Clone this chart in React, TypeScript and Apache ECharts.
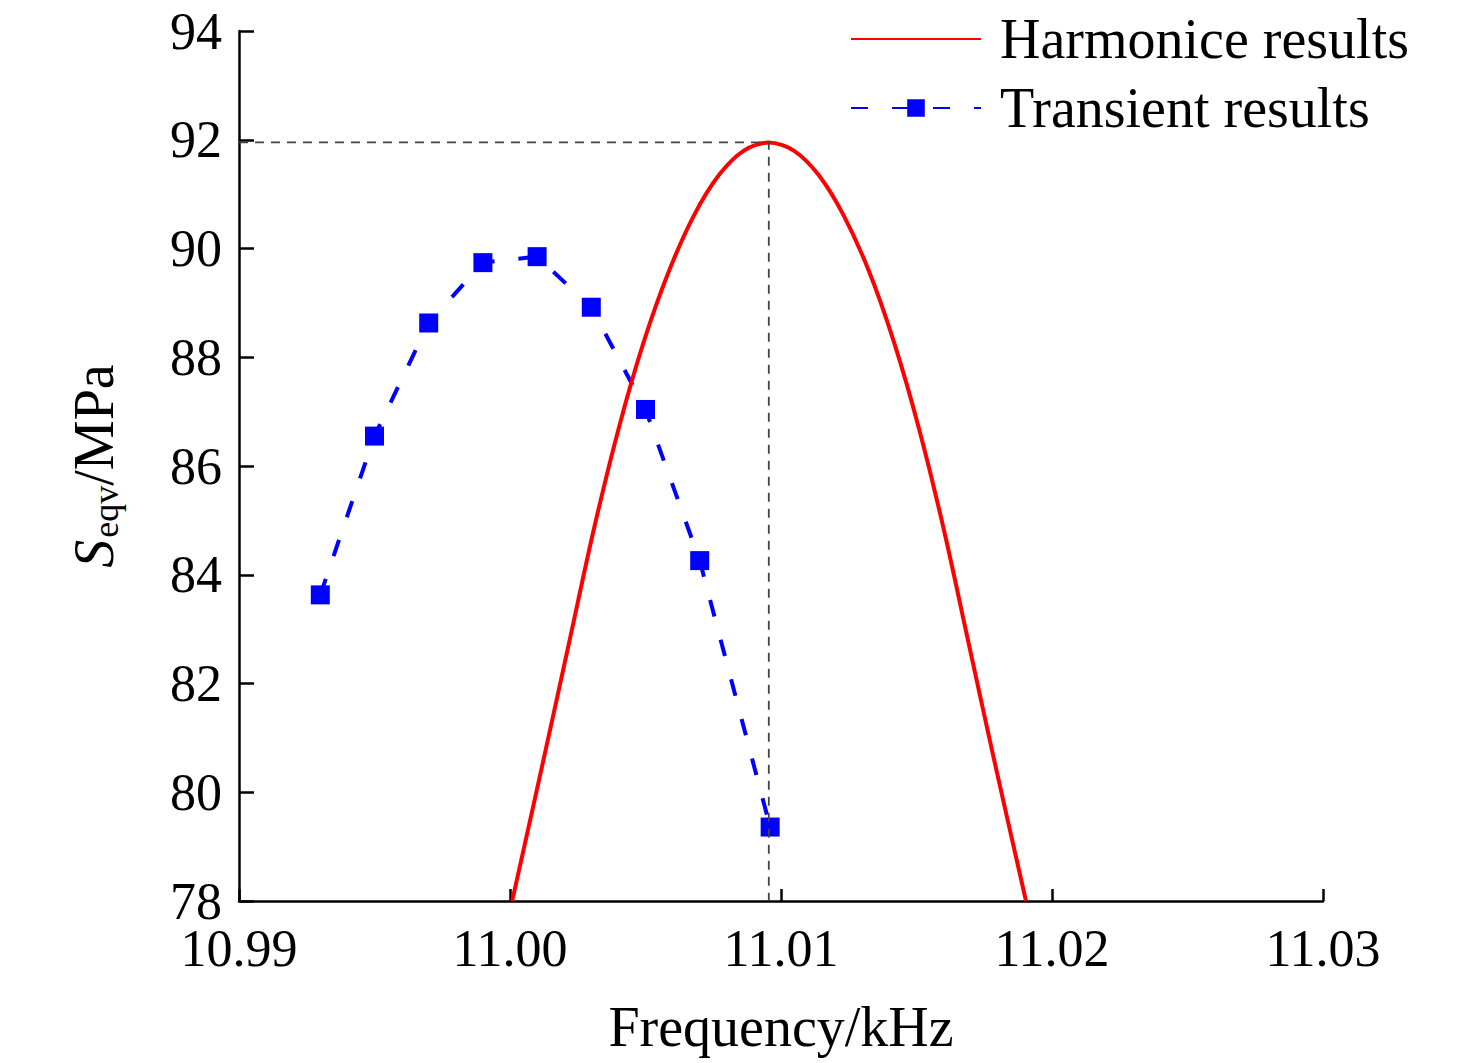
import React, { useEffect, useRef } from 'react';
import * as echarts from 'echarts';

// harmonic response curve (kHz, MPa)
const harmonicFreq = [
  11.00008, 11.00126, 11.00218, 11.0031, 11.00402, 11.00494, 11.00587, 11.00679, 11.00771, 11.00863,
  11.00955,
  11.01047, 11.01139, 11.01231, 11.01324, 11.01416, 11.01508, 11.016, 11.01692, 11.01784, 11.01904,
];
const harmonicStress = [
  78.0, 80.65, 82.75, 84.85, 86.71, 88.29, 89.59, 90.61, 91.35, 91.8,
  91.95,
  91.8, 91.35, 90.61, 89.59, 88.29, 86.71, 84.85, 82.75, 80.65, 78.0,
];

// transient results
const transientFreq = [10.993, 10.995, 10.997, 10.999, 11.001, 11.003, 11.005, 11.007, 11.0096];
const transientStress = [83.63, 86.55, 88.63, 89.74, 89.85, 88.92, 87.04, 84.26, 79.36];

// peak marker of the harmonic curve
const peakFreq = 11.00955;
const peakStress = 91.95;

const xTicks = [10.99, 11.0, 11.01, 11.02, 11.03];
const yTicks = [78, 80, 82, 84, 86, 88, 90, 92, 94];

const FONT = '"Liberation Serif", "Times New Roman", serif';

export default function App() {
  const ref = useRef<HTMLDivElement | null>(null);

  useEffect(() => {
    if (!ref.current) return;
    const chart = echarts.init(ref.current, undefined, { renderer: 'svg' });
    chart.setOption({
      animation: false,
      backgroundColor: '#ffffff',
      textStyle: { fontFamily: FONT, color: '#000' },
      grid: { left: 239, top: 31, right: 153, bottom: 162 },
      legend: {
        orient: 'vertical',
        left: 845,
        top: 6,
        itemWidth: 130,
        itemHeight: 22,
        itemGap: 13,
        data: [
          { name: 'Harmonice results', itemStyle: { opacity: 0 } },
          { name: 'Transient results' },
        ],
        textStyle: { fontFamily: FONT, fontSize: 56, color: '#000', lineHeight: 56, padding: [0, 0, 0, 14] },
      },
      xAxis: {
        type: 'value',
        min: xTicks[0],
        max: xTicks[xTicks.length - 1],
        interval: 0.01,
        name: 'Frequency/kHz',
        nameLocation: 'middle',
        nameGap: 98,
        nameTextStyle: { fontFamily: FONT, fontSize: 56, color: '#000' },
        axisLine: { show: true, lineStyle: { color: '#000', width: 2.5 } },
        axisTick: { show: true, inside: true, length: 12, lineStyle: { color: '#000', width: 2.5 } },
        axisLabel: { margin: 27, fontFamily: FONT, fontSize: 52, lineHeight: 40, color: '#000', formatter: (v: number) => v.toFixed(2) },
        splitLine: { show: false },
      },
      yAxis: {
        type: 'value',
        min: yTicks[0],
        max: yTicks[yTicks.length - 1],
        interval: 2,
        name: '{i|S}{sub|eqv}{n|/MPa}',
        nameLocation: 'middle',
        nameGap: 115,
        nameRotate: 90,
        nameTextStyle: {
          fontFamily: FONT,
          color: '#000',
          rich: {
            i: { fontFamily: FONT, fontSize: 56, fontStyle: 'italic', color: '#000', lineHeight: 60 },
            sub: { fontFamily: FONT, fontSize: 36, color: '#000', verticalAlign: 'bottom', lineHeight: 60, padding: [18, 0, 0, 2] },
            n: { fontFamily: FONT, fontSize: 56, color: '#000', lineHeight: 60 },
          },
        },
        axisLine: { show: true, lineStyle: { color: '#000', width: 2.5 } },
        axisTick: { show: true, inside: true, length: 15, lineStyle: { color: '#000', width: 2.5 } },
        axisLabel: { margin: 17, fontFamily: FONT, fontSize: 52, lineHeight: 38, color: '#000' },
        splitLine: { show: false },
      },
      series: [
        {
          name: 'Transient results',
          type: 'line',
          data: transientFreq.map((f, i) => [f, transientStress[i]]),
          symbol: 'rect',
          symbolSize: 19,
          itemStyle: { color: '#0000ff' },
          lineStyle: { color: '#0000ff', width: 4, type: [17, 24] },
          z: 2,
        },
        {
          name: 'Harmonice results',
          type: 'line',
          data: harmonicFreq.map((f, i) => [f, harmonicStress[i]]),
          showSymbol: false,
          symbol: 'circle',
          smooth: 0.3,
          itemStyle: { color: '#ff0000' },
          lineStyle: { color: '#ff0000', width: 4 },
          z: 3,
        },
        {
          name: 'peak',
          type: 'line',
          data: [[xTicks[0], peakStress], [peakFreq, peakStress], [peakFreq, yTicks[0]]],
          symbol: 'none',
          silent: true,
          lineStyle: { color: '#444', width: 1.8, type: [9, 7] },
          z: 4,
        },
      ],
    });
    return () => { chart.dispose(); };
  }, []);

  return <div ref={ref} style={{ position: 'absolute', left: 0, top: 0, width: 1476, height: 1063 }} />;
}
